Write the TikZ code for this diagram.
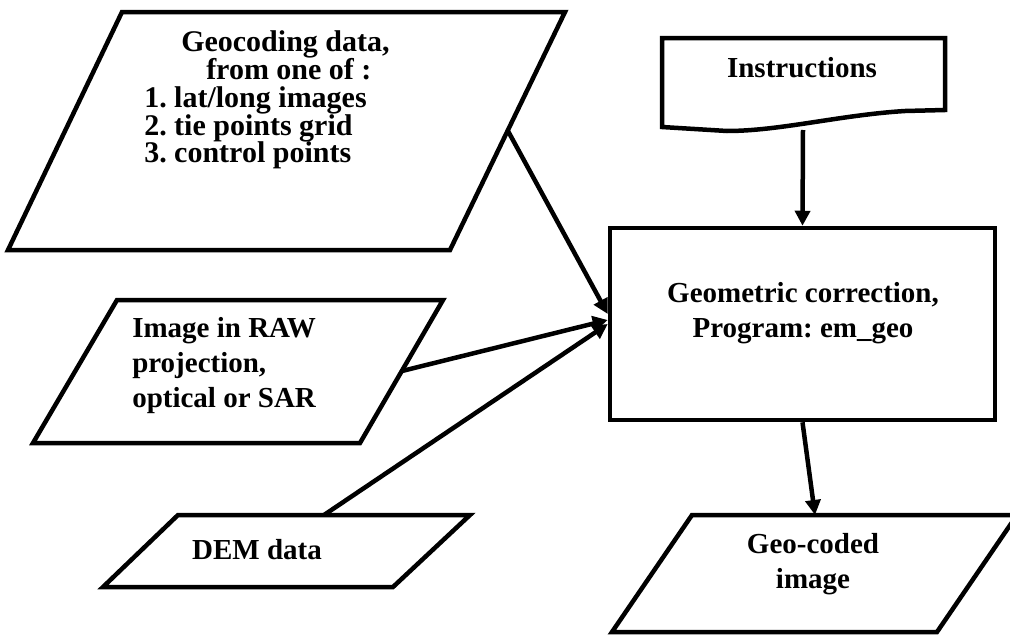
\documentclass[tikz,border=0pt]{standalone}
\usepackage{fontspec}
\setmainfont{Liberation Serif}
\usetikzlibrary{arrows.meta}
\frenchspacing

\begin{document}
\begin{tikzpicture}[x=1pt, y=-1pt, line width=4.5pt,
  txt/.style={inner sep=0pt, font=\fontsize{29}{35}\selectfont\bfseries},
  tight/.style={inner sep=0pt, font=\fontsize{30}{27.8}\selectfont\bfseries},
  flow/.style={-{Triangle[length=15pt,width=15pt]}}]
\useasboundingbox (0,0) rectangle (1010,637);
% input data
\draw (122,12) -- (565,12) -- (450,250) -- (8,250) -- cycle;
\draw (117,300) -- (443,300) -- (360,443) -- (33,443) -- cycle;
\draw (178,515) -- (470,515) -- (393,587) -- (103,587) -- cycle;
% instructions
\draw (662,38) -- (945,38) -- (945,110) -- (905,111)
  .. controls (840,115) and (780,131) .. (727,131) -- (662,127) -- cycle;
% processing and result
\node[draw, minimum width=385pt, minimum height=192pt, inner sep=0pt] (box) at (802.5,324) {};
\draw (692,515) -- (1017,515) -- (937,632) -- (612,632) -- cycle;

\node[tight, align=left, anchor=west] (geoTxt) at (142,100) {\hspace*{37pt}Geocoding data,\\
  \hspace*{62pt}from one of :\\1. lat/long images\\2. tie points grid\\3. control points};
\node[txt, align=left, anchor=west] (imgTxt) at (130,366) {Image in RAW\\projection,\\optical or SAR};
\node[txt] (demTxt) at (257,550) {DEM data};
\node[txt] (insTxt) at (802,68) {Instructions};
\node[txt, align=center] (boxTxt) at (803,313) {Geometric correction,\\Program: em\_geo};
\node[txt, align=center] (outTxt) at (813,564) {Geo-coded\\image};

\coordinate (geoR) at (508,131);
\coordinate (imgR) at (402,371);
\coordinate (demT) at (324,515);
\coordinate (insB) at (803,130);
\coordinate (outT) at (815,515);

\draw[flow] (geoR) -- ([yshift=10pt]box.west);
\draw[flow] (imgR) -- ([yshift=4pt]box.west);
\draw[flow] (demT) -- (box.west);
\draw[flow] (insB) -- (box.north);
\draw[flow] (box.south) -- (outT);
\end{tikzpicture}
\end{document}
